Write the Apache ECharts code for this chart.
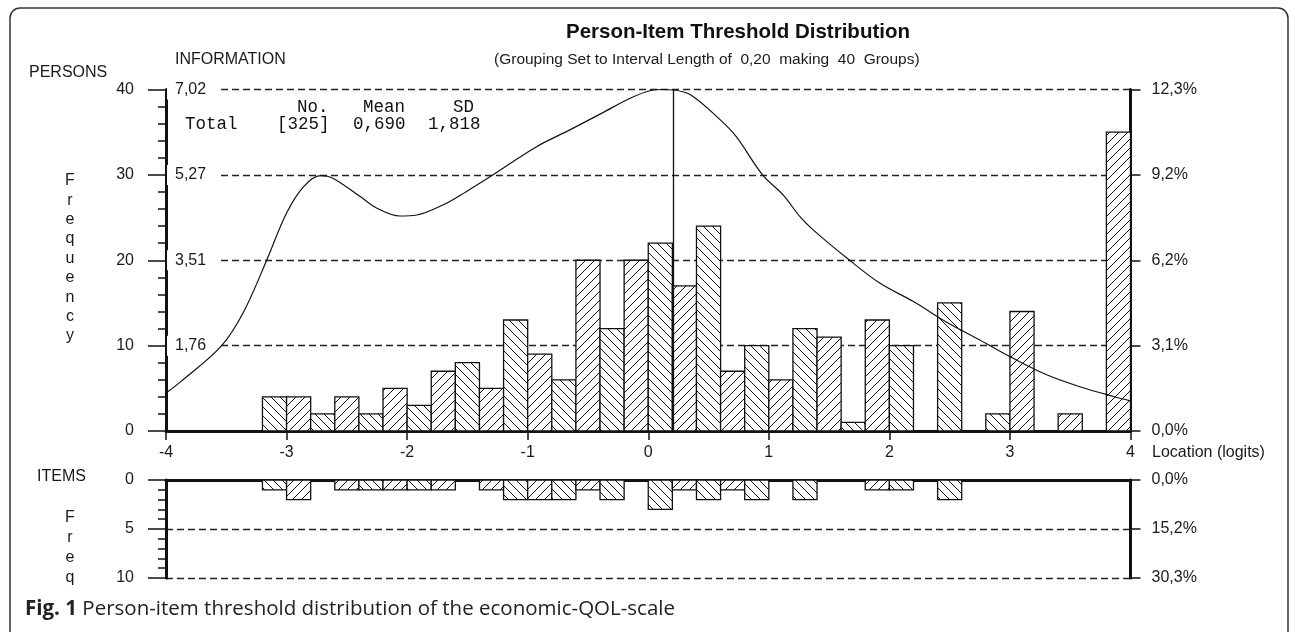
<!DOCTYPE html>
<html><head><meta charset="utf-8">
<script src="https://cdn.jsdelivr.net/npm/echarts@6/dist/echarts.min.js"></script>
<style>html,body{margin:0;padding:0;background:#fff}#c{width:1292px;height:632px}</style>
</head><body><div id="c"></div>
<script>
// ---- data ----
const binLength = 0.2;          // "Interval Length of 0,20"
const firstBinStart = -4;       // 40 groups from -4 to 4
const personCounts = [0,0,0,0,4,4,2,4,2,5,3,7,8,5,13,9,6,20,12,20,22,17,24,7,10,6,12,11,1,13,10,0,15,0,2,14,0,2,0,35];
const itemCounts   = [0,0,0,0,1,2,0,1,1,1,1,1,0,1,2,2,2,1,2,0,3,1,2,1,2,0,2,0,0,1,1,0,2,0,0,0,0,0,0,0];
const infoCurve = [
  [-4.00,0.78],[-3.88,1.01],[-3.54,1.75],[-3.36,2.43],[-3.17,3.48],[-3.00,4.48],[-2.86,5.02],
  [-2.72,5.25],[-2.62,5.20],[-2.39,4.82],[-2.25,4.58],[-2.06,4.42],[-1.92,4.44],[-1.70,4.65],
  [-1.51,4.92],[-1.31,5.23],[-0.93,5.84],[-0.65,6.19],[-0.38,6.54],[-0.15,6.84],[0.02,7.00],
  [0.12,7.02],[0.21,7.01],[0.35,6.91],[0.60,6.39],[0.73,6.05],[0.95,5.26],[1.12,4.85],[1.26,4.40],
  [1.37,4.13],[1.65,3.55],[1.92,3.04],[2.20,2.66],[2.48,2.23],[2.75,1.87],[3.03,1.49],[3.31,1.15],
  [3.58,0.91],[3.86,0.71],[4.00,0.62]
];
const peakLocation = 0.21;
const infoMax = 7.02;
const infoTickLabels = ['0','1,76','3,51','5,27','7,02'];
const personPctLabels = ['0,0%','3,1%','6,2%','9,2%','12,3%'];
const itemPctLabels = ['0,0%','15,2%','30,3%'];
const statsHeader = ['No.','Mean','SD'];
const statsRow = ['Total','[325]','0,690','1,818'];

// ---- hatch patterns ----
function makeHatch(back){
  const s = 9, c = document.createElement('canvas'); c.width = s; c.height = s;
  const g = c.getContext('2d'); g.fillStyle = '#fff'; g.fillRect(0,0,s,s);
  g.strokeStyle = '#111'; g.lineWidth = 1; g.beginPath();
  if (back){ g.moveTo(-1,-1); g.lineTo(s+1,s+1); g.moveTo(-2,s-2); g.lineTo(2,s+2); g.moveTo(s-2,-2); g.lineTo(s+2,2); }
  else { g.moveTo(-1,s+1); g.lineTo(s+1,-1); g.moveTo(-2,2); g.lineTo(2,-2); g.moveTo(s-2,s+2); g.lineTo(s+2,s-2); }
  g.stroke(); return c;
}
const patBack = {image: makeHatch(true), repeat: 'repeat'};
const patFwd  = {image: makeHatch(false), repeat: 'repeat'};

const toBins = arr => arr.map((v,i)=>[firstBinStart+i*binLength, firstBinStart+(i+1)*binLength, v, i%2]);

function renderBars(params, api){
  const x0 = api.value(0), x1 = api.value(1), v = api.value(2), odd = api.value(3);
  if (!v) return null;
  const p0 = api.coord([x0, 0]), p1 = api.coord([x1, v]);
  return {type:'rect', shape:{x:p0[0], y:Math.min(p0[1],p1[1]), width:p1[0]-p0[0], height:Math.abs(p1[1]-p0[1])},
    style:{fill: odd ? patFwd : patBack, stroke:'#111', lineWidth:1.3}};
}

const F = 'Liberation Sans';
const txt = '#1a1a1a';
const dashed = {show:true, lineStyle:{color:'#222', type:[7,4], width:1.3}};
const thick = {show:true, onZero:false, lineStyle:{color:'#111', width:3}};

const chart = echarts.init(document.getElementById('c'));
chart.setOption({
  animation:false,
  backgroundColor:'#fff',
  grid:[
    {left:166, top:89.5, width:964.5, height:341.5, outerBoundsMode:'none'},
    {left:166, top:480, width:964.5, height:98, outerBoundsMode:'none'}
  ],
  xAxis:[
    {gridIndex:0, type:'value', min:-4, max:4, interval:1, position:'bottom',
     axisLine:thick, axisTick:{show:true, length:9, lineStyle:{color:'#111', width:1.5}},
     axisLabel:{margin:14, fontFamily:F, fontSize:16, color:txt}, splitLine:{show:false}},
    {gridIndex:1, type:'value', min:-4, max:4, interval:1, position:'top',
     axisLine:thick, axisTick:{show:false}, axisLabel:{show:false}, splitLine:{show:false}}
  ],
  yAxis:[
    {gridIndex:0, type:'value', min:0, max:40, interval:10, position:'left',
     axisLine:thick, axisTick:{show:true, length:18, lineStyle:{color:'#111', width:1.5}},
     minorTick:{show:true, splitNumber:5, length:8, lineStyle:{color:'#111', width:1.5}},
     axisLabel:{margin:32, fontFamily:F, fontSize:16, color:txt}, splitLine:dashed},
    {gridIndex:0, type:'value', min:0, max:infoMax, interval:infoMax/4, position:'left', z:5,
     axisLine:{show:false, onZero:false}, axisTick:{show:false}, splitLine:{show:false},
     axisLabel:{inside:true, margin:1, showMinLabel:false, fontFamily:F, fontSize:16, color:txt,
       backgroundColor:'#fff', padding:[2,11,2,8], align:'left',
       formatter:(v,i)=>infoTickLabels[i]}},
    {gridIndex:0, type:'value', min:0, max:40, interval:10, position:'right',
     axisLine:thick, axisTick:{show:true, length:10, lineStyle:{color:'#111', width:1.5}},
     axisLabel:{margin:21, fontFamily:F, fontSize:16, color:txt, formatter:(v,i)=>personPctLabels[i]},
     splitLine:{show:false}},
    {gridIndex:1, type:'value', min:0, max:10, interval:5, inverse:true, position:'left',
     axisLine:thick, axisTick:{show:true, length:18, lineStyle:{color:'#111', width:1.5}},
     minorTick:{show:true, splitNumber:5, length:8, lineStyle:{color:'#111', width:1.5}},
     axisLabel:{margin:32, fontFamily:F, fontSize:16, color:txt}, splitLine:dashed},
    {gridIndex:1, type:'value', min:0, max:10, interval:5, inverse:true, position:'right',
     axisLine:thick, axisTick:{show:true, length:10, lineStyle:{color:'#111', width:1.5}},
     axisLabel:{margin:21, fontFamily:F, fontSize:16, color:txt, formatter:(v,i)=>itemPctLabels[i]},
     splitLine:{show:false}}
  ],
  series:[
    {type:'custom', xAxisIndex:0, yAxisIndex:0, renderItem:renderBars, data:toBins(personCounts),
     encode:{x:[0,1], y:2}, z:3},
    {type:'custom', xAxisIndex:1, yAxisIndex:3, renderItem:renderBars, data:toBins(itemCounts),
     encode:{x:[0,1], y:2}, z:3},
    {type:'line', xAxisIndex:0, yAxisIndex:1, data:infoCurve, smooth:0.35, symbol:'none', z:7,
     lineStyle:{color:'#111', width:1.2}, clip:false,
     markLine:{silent:true, symbol:'none', label:{show:false}, lineStyle:{color:'#111', width:1.3, type:'solid'},
       data:[[{coord:[peakLocation,0]},{coord:[peakLocation,infoMax]}]]}}
  ],
  graphic:[
    {type:'rect', shape:{x:10, y:8, width:1278, height:660, r:10}, style:{fill:'none', stroke:'#333', lineWidth:1.5}, silent:true},
    {type:'text', left:566, top:22, style:{text:'Person-Item Threshold Distribution', font:'bold 20.5px "Liberation Sans"', fill:'#111'}},
    {type:'text', left:494, top:52, style:{text:'(Grouping Set to Interval Length of  0,20  making  40  Groups)', font:'15.5px "Liberation Sans"', fill:txt}},
    {type:'text', left:29, top:65, style:{text:'PERSONS', font:'16px "Liberation Sans"', fill:txt}},
    {type:'text', left:175, top:52, style:{text:'INFORMATION', font:'16px "Liberation Sans"', fill:txt}},
    {type:'text', left:37, top:469, style:{text:'ITEMS', font:'16px "Liberation Sans"', fill:txt}},
    {type:'text', left:1152, top:445, style:{text:'Location (logits)', font:'16px "Liberation Sans"', fill:txt}},
    {type:'text', x:70, y:171, style:{text:'F\nr\ne\nq\nu\ne\nn\nc\ny', font:'16px "Liberation Sans"', lineHeight:19.4, align:'center', fill:txt}},
    {type:'text', x:70, y:508, style:{text:'F\nr\ne\nq', font:'16px "Liberation Sans"', lineHeight:20, align:'center', fill:txt}},
    {type:'text', x:297, y:98, style:{text:statsHeader[0], font:'17.5px "Liberation Mono"', fill:'#111'}},
    {type:'text', x:363, y:98, style:{text:statsHeader[1], font:'17.5px "Liberation Mono"', fill:'#111'}},
    {type:'text', x:453, y:98, style:{text:statsHeader[2], font:'17.5px "Liberation Mono"', fill:'#111'}},
    {type:'text', x:185, y:115, style:{text:statsRow[0], font:'17.5px "Liberation Mono"', fill:'#111'}},
    {type:'text', x:277, y:115, style:{text:statsRow[1], font:'17.5px "Liberation Mono"', fill:'#111'}},
    {type:'text', x:353, y:115, style:{text:statsRow[2], font:'17.5px "Liberation Mono"', fill:'#111'}},
    {type:'text', x:428, y:115, style:{text:statsRow[3], font:'17.5px "Liberation Mono"', fill:'#111'}},
    {type:'text', x:25, y:599, style:{text:'{b|Fig. 1} Person-item threshold distribution of the economic-QOL-scale',
      font:'20.5px "Open Sans"', fill:'#222', rich:{b:{font:'bold 20.5px "Open Sans"', fill:'#222'}}}}
  ]
});
</script></body></html>
